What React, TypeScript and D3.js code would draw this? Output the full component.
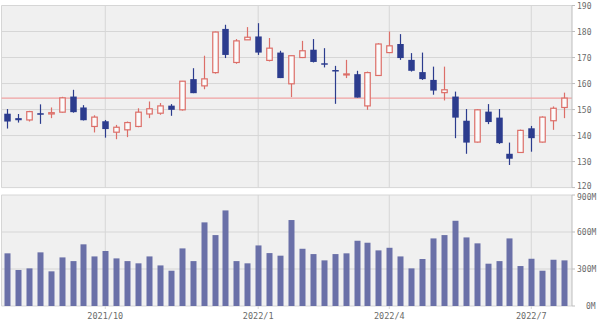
import React from "react";
import * as d3 from "d3";

const opens = [148.4,146.7,146.0,148.6,148.3,149.0,155.0,150.8,143.5,145.5,141.3,142.2,143.5,148.3,148.6,151.5,149.9,161.7,159.1,164.2,181.0,168.1,176.8,178.1,168.9,171.9,159.9,170.0,173.0,167.8,165.2,163.3,163.6,151.4,163.1,171.9,175.2,169.1,164.4,161.4,156.5,155.0,145.7,137.5,149.2,146.9,133.0,133.5,142.8,137.5,145.7,150.8];
const closes = [145.4,145.9,149.2,148.0,148.8,154.5,149.0,145.9,147.1,142.5,143.2,145.0,149.0,150.3,151.4,149.9,160.9,156.3,161.8,179.8,171.0,176.4,177.8,171.9,173.6,162.1,170.7,172.6,168.3,167.4,164.9,163.7,154.6,164.2,175.2,174.5,169.8,164.9,161.7,157.3,157.6,146.9,137.3,149.9,145.2,137.1,131.1,142.0,139.0,147.1,150.5,154.4];
const highs = [150.2,148.3,149.5,152.0,150.8,154.9,157.6,151.7,147.8,146.0,144.1,145.4,150.5,153.1,152.5,152.1,161.0,165.9,170.7,180.0,182.6,177.1,181.7,183.2,177.5,172.6,170.8,176.4,177.1,173.6,166.8,169.1,164.9,164.6,175.5,180.0,179.0,171.7,171.9,166.5,166.5,156.9,150.2,150.2,152.1,150.2,137.3,142.3,143.7,147.4,151.2,156.5];
const lows = [142.7,145.0,145.4,144.5,146.7,148.8,148.8,145.8,141.2,139.2,138.6,139.4,143.2,146.7,148.0,147.6,149.6,156.3,157.8,163.8,169.8,167.6,176.8,171.0,168.5,162.1,154.8,169.8,168.1,166.2,152.2,162.1,154.6,149.9,162.9,171.7,169.1,164.6,161.4,155.7,153.5,139.0,133.0,137.3,144.4,136.8,128.7,133.3,133.8,137.3,142.2,146.7];
const volumes = [427,292,305,435,281,394,364,500,402,446,386,364,346,402,329,286,467,364,678,575,775,364,346,491,429,408,697,464,421,370,421,427,529,513,451,472,402,305,381,548,575,691,556,508,343,364,548,324,383,286,375,370];

const priceTicks = [120,130,140,150,160,170,180,190];
const volumeTicks = [0,300,600,900];
const dateTickIndex = [9,23,35,48];
const dateTickLabels = ["2021/10","2022/1","2022/4","2022/7"];
const refLine = 154.4;

const W = 600, H = 324;
const plotL = 1.5, plotR = 572;
const topY0 = 5.5, topY1 = 187.6;
const botY0 = 195, botY1 = 306;

const BLUE = "#2c3c8e";
const RED = "#dc6e68";
const VOL = "#6a70a8";
const GRID = "#d6d6d6";
const BG = "#f0f0f0";
const TXT = "#6a6a6a";
const FONT = "'DejaVu Sans Mono', monospace";

export default function App() {
  const idx = d3.range(opens.length);
  const x = d3.scaleBand<number>().domain(idx).range([plotL, 569.5]).padding(0);
  const cx = (i: number) => (x(i) as number) + x.bandwidth() / 2;
  const y = d3.scaleLinear().domain([120, 190]).range([topY1, topY0]);
  const yv = d3.scaleLinear().domain([0, 900]).range([botY1, botY0]);
  const bw = 5.5;

  return (
    <svg width={W} height={H} style={{ position: "absolute", left: 0, top: 0, background: "#fff" }}>
      <rect x={plotL} y={topY0} width={plotR - plotL} height={topY1 - topY0} fill={BG} />
      {priceTicks.map((t) => (
        <line key={"pg" + t} x1={plotL} x2={plotR} y1={y(t)} y2={y(t)} stroke={GRID} />
      ))}
      {dateTickIndex.map((i) => (
        <line key={"pv" + i} x1={cx(i)} x2={cx(i)} y1={topY0} y2={topY1} stroke={GRID} />
      ))}
      <line x1={plotL} x2={plotL} y1={topY0} y2={topY1} stroke={GRID} />
      <line x1={plotL} x2={plotR} y1={y(refLine)} y2={y(refLine)} stroke="#f0a2a2" strokeWidth={1.2} />
      {idx.map((i) => {
        const up = closes[i] >= opens[i];
        const c = up ? RED : BLUE;
        const top = y(Math.max(opens[i], closes[i]));
        const bot = y(Math.min(opens[i], closes[i]));
        const xc = Math.round(cx(i)) + 0.5;
        return (
          <g key={"c" + i}>
            <line x1={xc} x2={xc} y1={y(highs[i])} y2={y(lows[i])} stroke={c} strokeWidth={1.2} />
            {up ? (
              <rect x={xc - bw / 2} y={top} width={bw} height={Math.max(bot - top, 1)} fill="#fbfbfb" stroke={c} strokeWidth={1.2} />
            ) : (
              <rect x={xc - bw / 2 - 0.5} y={top} width={bw + 1} height={Math.max(bot - top, 1.5)} fill={c} />
            )}
          </g>
        );
      })}
      <line x1={plotR} x2={plotR} y1={topY0} y2={topY1} stroke="#bdbdbd" />
      {priceTicks.map((t) => (
        <g key={"pt" + t}>
          <line x1={plotR} x2={plotR + 3} y1={y(t)} y2={y(t)} stroke="#bdbdbd" />
          <text x={577} y={y(t) + (t === 120 ? 1.5 : 3)} fontSize={8} fontFamily={FONT} fill={TXT}>{t}</text>
        </g>
      ))}

      <rect x={plotL} y={botY0} width={plotR - plotL} height={botY1 - botY0} fill={BG} />
      {volumeTicks.map((t) => (
        <line key={"vg" + t} x1={plotL} x2={plotR} y1={yv(t)} y2={yv(t)} stroke={GRID} />
      ))}
      {dateTickIndex.map((i) => (
        <line key={"vv" + i} x1={cx(i)} x2={cx(i)} y1={botY0} y2={botY1 + 3} stroke={GRID} />
      ))}
      <line x1={plotL} x2={plotL} y1={botY0} y2={botY1} stroke={GRID} />
      {idx.map((i) => (
        <rect key={"v" + i} x={Math.round(cx(i)) - 2.5} y={yv(volumes[i])} width={6} height={botY1 - yv(volumes[i])} fill={VOL} />
      ))}
      <line x1={plotR} x2={plotR} y1={botY0} y2={botY1} stroke="#bdbdbd" />
      {volumeTicks.map((t) => (
        <g key={"vt" + t}>
          <line x1={plotR} x2={plotR + 3} y1={yv(t)} y2={yv(t)} stroke="#bdbdbd" />
          <text x={t === 0 ? 586 : 577} y={yv(t) + (t === 900 ? 4.5 : 3)} fontSize={8} fontFamily={FONT} fill={TXT}>{t + "M"}</text>
        </g>
      ))}
      {dateTickIndex.map((i, k) => (
        <text key={"dl" + i} x={cx(i)} y={319} fontSize={8.5} fontFamily={FONT} fill={TXT} textAnchor="middle">{dateTickLabels[k]}</text>
      ))}
    </svg>
  );
}
